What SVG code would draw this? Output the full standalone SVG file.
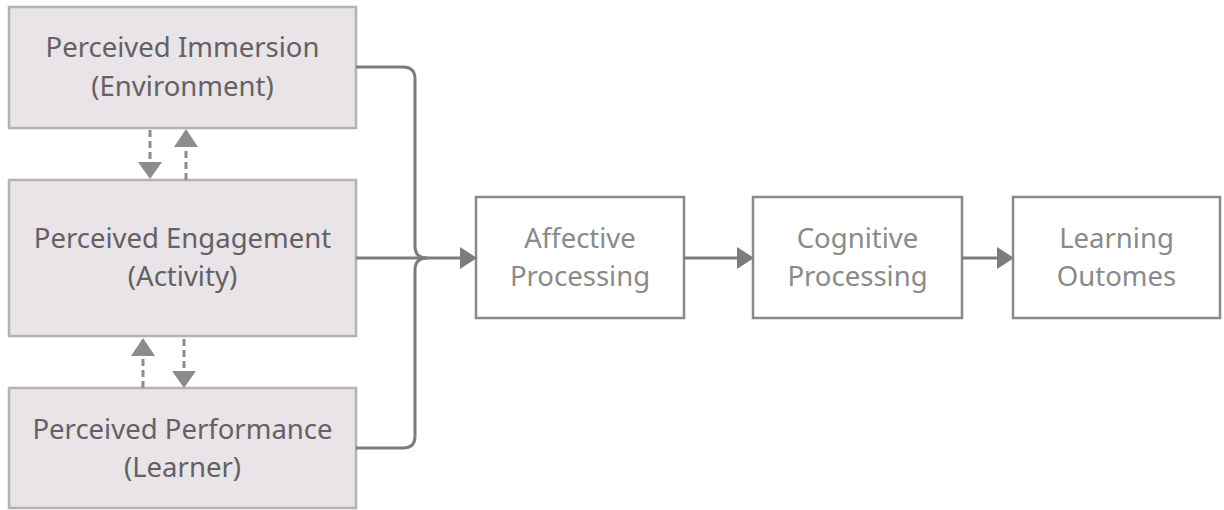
<svg xmlns="http://www.w3.org/2000/svg" width="1224" height="510" viewBox="0 0 1224 510">
<style>
.lbox{fill:#e8e4e8;stroke:#b4b0b4;stroke-width:2.5}
.rbox{fill:#ffffff;stroke:#8a8a8a;stroke-width:2.5}
.lt{font-family:"Noto Sans","Open Sans",sans-serif;font-size:27.5px;fill:#646064;text-anchor:middle}
.rt{font-family:"Noto Sans","Open Sans",sans-serif;font-size:27.5px;fill:#8a8a8a;text-anchor:middle}
.conn{fill:none;stroke:#7c7c7c;stroke-width:3}
.dash{fill:none;stroke:#8c8c8c;stroke-width:3;stroke-dasharray:7 4}
.head{fill:#7c7c7c}
.dhead{fill:#8c8c8c}
</style>
<rect width="1224" height="510" fill="#ffffff"/>
<g id="immersion">
<rect class="lbox" x="9" y="7" width="347" height="121"/>
<text class="lt" x="182.5" y="57">Perceived Immersion</text>
<text class="lt" x="182.5" y="96">(Environment)</text>
</g>
<g id="engagement">
<rect class="lbox" x="9" y="180" width="347" height="156"/>
<text class="lt" x="182.5" y="248">Perceived Engagement</text>
<text class="lt" x="182.5" y="286">(Activity)</text>
</g>
<g id="performance">
<rect class="lbox" x="9" y="388" width="347" height="120"/>
<text class="lt" x="182.5" y="439">Perceived Performance</text>
<text class="lt" x="182.5" y="477">(Learner)</text>
</g>
<g id="affective">
<rect class="rbox" x="476" y="197" width="208" height="121"/>
<text class="rt" x="580" y="248">Affective</text>
<text class="rt" x="580" y="286">Processing</text>
</g>
<g id="cognitive">
<rect class="rbox" x="753" y="197" width="209" height="121"/>
<text class="rt" x="857.5" y="248">Cognitive</text>
<text class="rt" x="857.5" y="286">Processing</text>
</g>
<g id="outcomes">
<rect class="rbox" x="1013" y="197" width="207" height="121"/>
<text class="rt" x="1116.5" y="248">Learning</text>
<text class="rt" x="1116.5" y="286">Outomes</text>
</g>
<g id="connectors">
<path class="conn" d="M356,67 H403 Q415,67 415,79 V246 Q415,258 427,258"/>
<path class="conn" d="M356,448 H403 Q415,448 415,436 V270 Q415,258 427,258"/>
<path class="conn" d="M356,258 H462"/>
<polygon class="head" points="477,258 460,247 460,269"/>
<path class="conn" d="M684,258 H739"/>
<polygon class="head" points="754,258 737,247 737,269"/>
<path class="conn" d="M962,258 H999"/>
<polygon class="head" points="1014,258 997,247 997,269"/>
<path class="dash" d="M150,130 V164"/>
<polygon class="dhead" points="150,179 138,162 162,162"/>
<path class="dash" d="M186,180 V146"/>
<polygon class="dhead" points="186,129 174,147 198,147"/>
<path class="dash" d="M143,388 V356"/>
<polygon class="dhead" points="143,338 131,356 155,356"/>
<path class="dash" d="M184,339 V372"/>
<polygon class="dhead" points="184,388 172,371 196,371"/>
</g>
</svg>
